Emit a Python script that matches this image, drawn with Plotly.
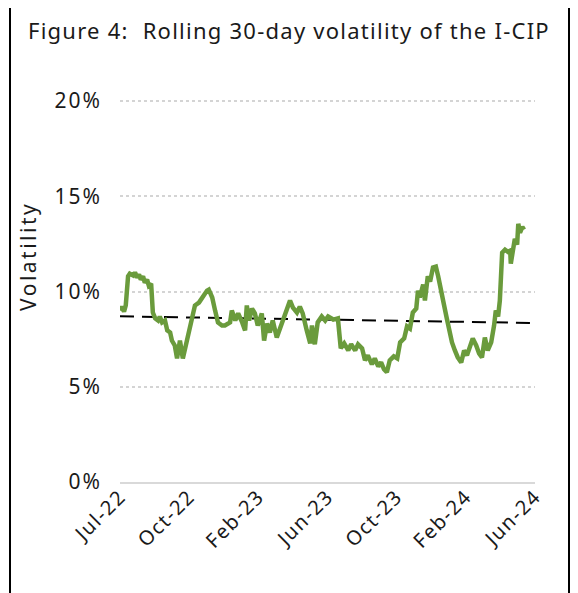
import plotly.graph_objects as go

# ---------------- data ----------------
dates = [
    "2022-07-01", "2022-07-04", "2022-07-08", "2022-07-11", "2022-07-15", "2022-07-18",
    "2022-07-24", "2022-07-27", "2022-07-31", "2022-08-03", "2022-08-06", "2022-08-10",
    "2022-08-13", "2022-08-17", "2022-08-20", "2022-08-24", "2022-08-27", "2022-08-31",
    "2022-09-05", "2022-09-08", "2022-09-12", "2022-09-17", "2022-09-21", "2022-09-26",
    "2022-09-29", "2022-10-04", "2022-10-08", "2022-10-13", "2022-10-18", "2022-10-22",
    "2022-10-27", "2022-11-03", "2022-11-08", "2022-11-15", "2022-11-22", "2022-11-29",
    "2022-12-02", "2022-12-08", "2022-12-13", "2022-12-18", "2022-12-25", "2022-12-30",
    "2023-01-08", "2023-01-11", "2023-01-17", "2023-01-22", "2023-01-29", "2023-02-03",
    "2023-02-06", "2023-02-10", "2023-02-15", "2023-02-20", "2023-02-25", "2023-03-04",
    "2023-03-08", "2023-03-13", "2023-03-18", "2023-03-23", "2023-03-30", "2023-04-05",
    "2023-04-10", "2023-04-17", "2023-04-22", "2023-04-27", "2023-05-04", "2023-05-09",
    "2023-05-14", "2023-05-21", "2023-05-27", "2023-05-30", "2023-06-04", "2023-06-09",
    "2023-06-16", "2023-06-22", "2023-06-27", "2023-07-06", "2023-07-14", "2023-07-19",
    "2023-07-25", "2023-08-01", "2023-08-06", "2023-08-13", "2023-08-18", "2023-08-25",
    "2023-08-30", "2023-09-04", "2023-09-11", "2023-09-16", "2023-09-22", "2023-09-27",
    "2023-10-02", "2023-10-07", "2023-10-12", "2023-10-19", "2023-10-25", "2023-10-30",
    "2023-11-06", "2023-11-11", "2023-11-16", "2023-11-21", "2023-11-27", "2023-11-30",
    "2023-12-03", "2023-12-09", "2023-12-12", "2023-12-17", "2023-12-21", "2023-12-26",
    "2023-12-31", "2024-01-04", "2024-01-09", "2024-01-14", "2024-01-19", "2024-01-25",
    "2024-01-28", "2024-02-02", "2024-02-07", "2024-02-13", "2024-02-18", "2024-02-23",
    "2024-02-28", "2024-03-04", "2024-03-10", "2024-03-15", "2024-03-20", "2024-03-25",
    "2024-03-30", "2024-04-05", "2024-04-10", "2024-04-13", "2024-04-17", "2024-04-20",
    "2024-04-24", "2024-04-29", "2024-05-04", "2024-05-08", "2024-05-09", "2024-05-13",
    "2024-05-16", "2024-05-20", "2024-05-22", "2024-05-25", "2024-05-29", "2024-06-01",
]
volatility = [
    9.00, 9.20, 8.95, 9.27, 10.80, 10.94, 10.84, 11.00, 10.73, 10.90, 10.63, 10.80,
    10.47, 10.63, 10.31, 10.42, 8.90, 8.59, 8.48, 8.69, 8.38, 8.48, 7.96, 7.85,
    7.43, 7.17, 6.49, 7.43, 6.49, 7.02, 7.43, 8.48, 9.27, 9.42, 9.79, 10.05,
    10.10, 9.69, 9.00, 8.38, 8.22, 8.22, 8.38, 9.00, 8.48, 8.85, 8.38, 7.96,
    9.27, 8.48, 9.11, 8.85, 8.22, 8.85, 7.43, 8.32, 7.85, 8.48, 7.59, 8.12,
    8.59, 9.21, 9.53, 9.16, 8.90, 9.21, 8.85, 7.96, 7.28, 8.22, 7.23, 8.38,
    8.69, 8.48, 8.69, 8.53, 8.59, 7.02, 7.28, 6.91, 7.23, 6.91, 7.23, 7.02,
    6.39, 6.65, 6.18, 6.49, 6.07, 6.28, 5.92, 5.76, 6.39, 6.60, 6.49, 7.33,
    7.54, 8.17, 8.06, 8.90, 9.11, 10.05, 9.69, 10.37, 9.53, 10.80, 10.52, 11.26,
    11.31, 10.80, 9.95, 9.32, 8.59, 7.70, 7.33, 6.91, 6.54, 6.28, 6.91, 6.65,
    7.02, 7.54, 7.17, 6.75, 6.54, 7.59, 6.91, 7.33, 8.22, 9.00, 8.69, 9.53,
    12.04, 12.20, 12.09, 12.15, 11.47, 12.30, 12.77, 12.46, 13.56, 13.09, 13.40, 13.25,
]
trend_dates = ["2022-07-01", "2024-06-20"]
trend_values = [8.70, 8.35]

tick_dates = ["2022-07-01", "2022-10-29", "2023-02-26", "2023-06-26",
              "2023-10-24", "2024-02-21", "2024-06-20"]
tick_labels = ["Jul-22", "Oct-22", "Feb-23", "Jun-23", "Oct-23", "Feb-24", "Jun-24"]
y_ticks = [0, 5, 10, 15, 20]
y_tick_labels = ["0%", "5%", "10%", "15%", "20%"]
y_max = 20.06   # a hair above 20% so the top gridline is still drawn

title_text = "Figure 4:\u00a0 Rolling 30-day volatility of the I-CIP"
y_title = "Volatility"

# ---------------- layout geometry ----------------
# the page body has an 8px margin, so the figure is 8px smaller and every
# screen position below is expressed in page pixels minus 8
OFF = 8
W, H = 578 - OFF, 593 - OFF
PL, PR, PT_, PB = 120, 535, 100, 482        # plot box in page pixels
L, R, T, B = PL - OFF, W - (PR - OFF), PT_ - OFF, H - (PB - OFF)
PW, PH = W - L - R, H - T - B


def px(x):
    return (x - OFF - L) / PW


def py(y):
    return (H - B - (y - OFF)) / PH


def spaced(text, ls):
    return f'<span style="letter-spacing:{ls}px">{text}</span>'


FONT = "Noto Sans"
INK = "#1a1a1a"
GREEN = "#6a9b3c"

fig = go.Figure()
fig.add_trace(go.Scatter(
    x=trend_dates, y=trend_values, mode="lines",
    line=dict(color="#000000", width=2, dash="14px,8px"),
    hoverinfo="skip", showlegend=False,
))
fig.add_trace(go.Scatter(
    x=dates, y=volatility, mode="lines",
    line=dict(color=GREEN, width=4.5),
    showlegend=False,
))

fig.update_layout(
    width=W, height=H,
    margin=dict(l=L, r=R, t=T, b=B, pad=0),
    paper_bgcolor="white", plot_bgcolor="white",
    font=dict(family=FONT, color=INK, size=19),
    showlegend=False,
)
fig.update_xaxes(
    type="date", range=[trend_dates[0], trend_dates[1]],
    tickmode="array", tickvals=tick_dates,
    ticktext=[spaced(t, 1.5) for t in tick_labels],
    tickangle=-45, showgrid=False, zeroline=False,
    showline=True, linecolor="#d9d9d9", linewidth=2,
    ticks="", ticklabelstandoff=-7,
    tickfont=dict(size=20, family=FONT, color=INK),
)
fig.update_yaxes(
    range=[0, y_max], tickmode="array", tickvals=y_ticks,
    ticktext=[spaced(t, 2) for t in y_tick_labels],
    showgrid=True, gridcolor="#d4d4d4", gridwidth=2, griddash="3px,3px",
    zeroline=False, showline=False, ticks="", ticklabelstandoff=17,
    tickfont=dict(size=21, family=FONT, color=INK),
)

# title
fig.add_annotation(
    text=spaced(title_text, 1.25), xref="paper", yref="paper", x=px(26), y=py(30),
    xanchor="left", yanchor="middle", showarrow=False,
    font=dict(size=22, family=FONT, color=INK),
)
# y axis title
fig.add_annotation(
    text=spaced(y_title, 2.5), xref="paper", yref="paper", x=px(28), y=py(257),
    xanchor="center", yanchor="middle", textangle=-90, showarrow=False,
    font=dict(size=21, family=FONT, color=INK),
)
# outer frame
for x0, y0, x1, y1 in [(10, 3, 10, 600), (9, 3, 570, 3), (569, 3, 569, 600)]:
    fig.add_shape(type="line", xref="paper", yref="paper",
                  x0=px(x0), y0=py(y0), x1=px(x1), y1=py(y1),
                  line=dict(color="#000000", width=2))

fig.write_html("out.html")
